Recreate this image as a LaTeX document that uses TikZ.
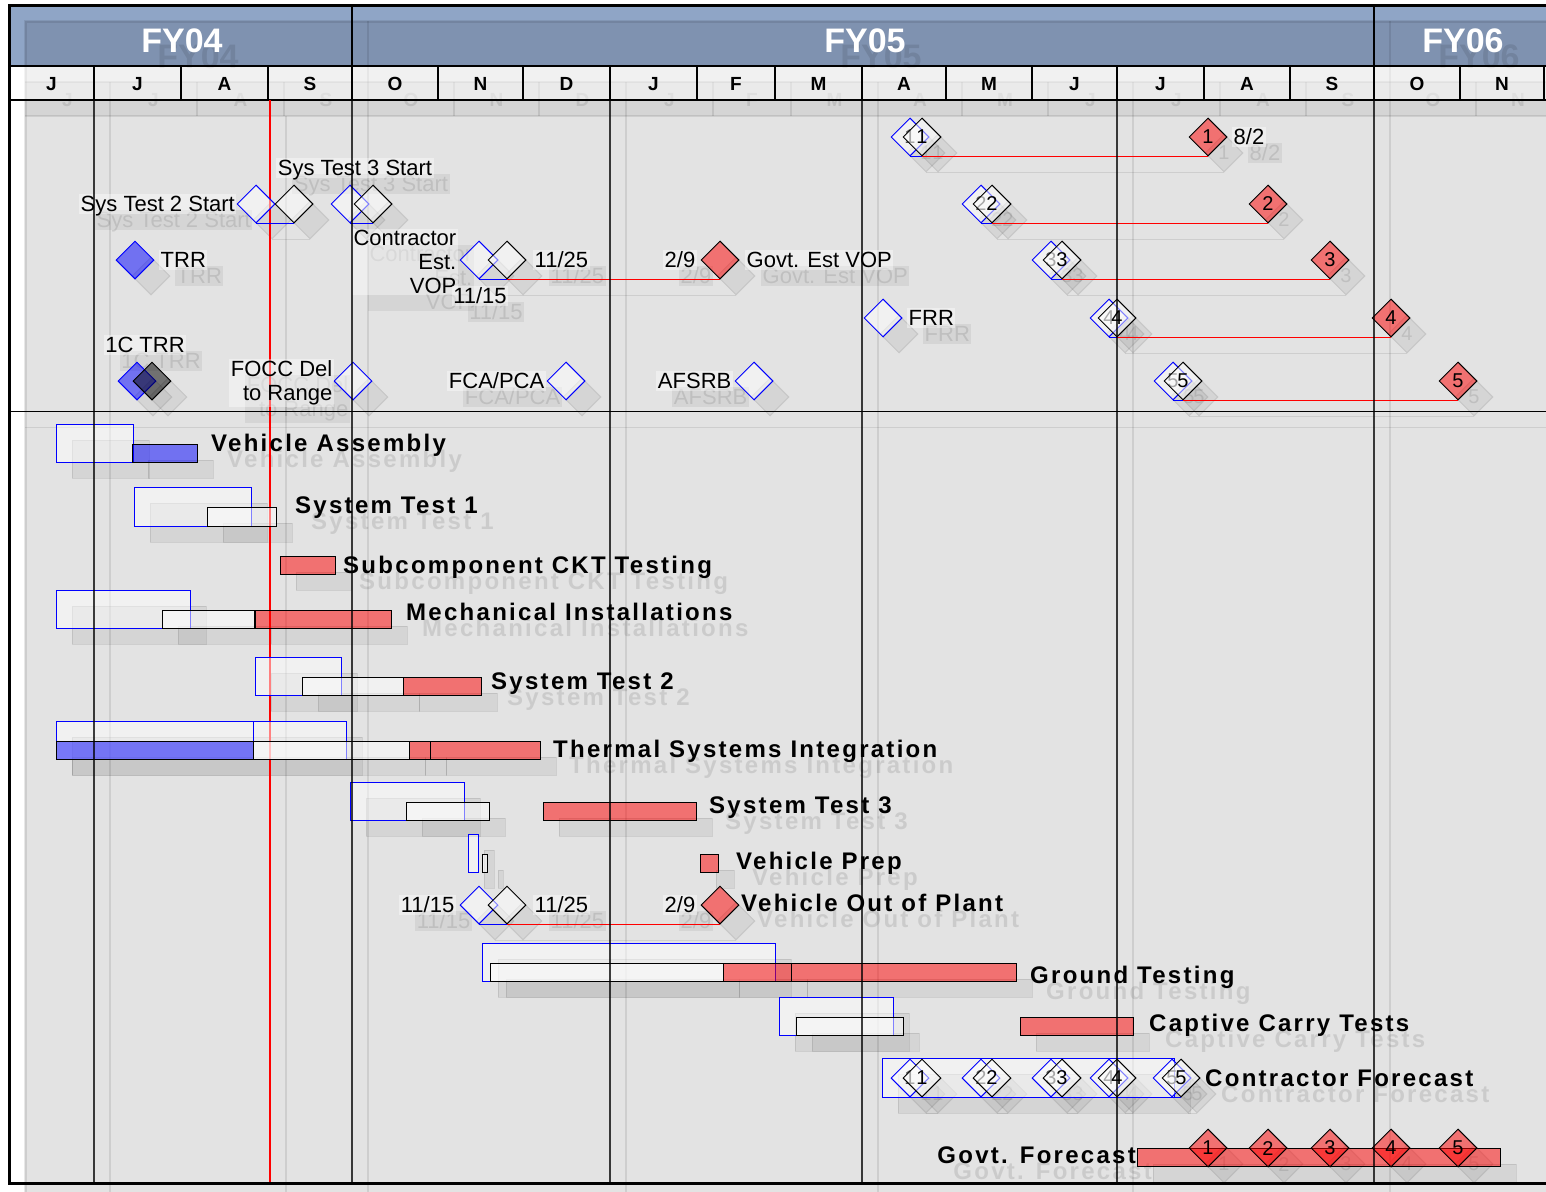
\documentclass[tikz,border=0pt]{standalone}
\usepackage{fontspec}
\setmainfont{Liberation Sans}
\newfontfamily\taskfam[LetterSpace=9.5]{Liberation Sans}
\usepackage{xcolor}
\definecolor{gthead}{RGB}{143,165,198}
\definecolor{gtblue}{RGB}{0,0,255}
\definecolor{gtred}{RGB}{255,0,0}
\definecolor{gtline}{RGB}{0,0,0}
\definecolor{gtgrey}{RGB}{80,80,80}
\definecolor{gtink}{RGB}{0,0,0}
\definecolor{gtfy}{RGB}{255,255,255}
\definecolor{gtpaper}{RGB}{255,255,255}
\usepackage{tikz}
\usetikzlibrary{shapes.geometric}

\newcommand\taskfnt{\taskfam\bfseries\fontsize{24}{28}\selectfont}
\newcommand\mstfnt{\fontsize{22}{24}\selectfont}
\newcommand\numfnt{\fontsize{20}{22}\selectfont}
\newcommand\fyfnt{\bfseries\fontsize{34}{38}\selectfont}
\newcommand\monfnt{\bfseries\fontsize{19}{22}\selectfont}

% everything of the chart, drawn once as shadow and once for real
\newcommand\chartitems{%
  % month row
  \fill[monrow] (9,66) rectangle (1560,100);
  \foreach \xs/\xe/\mname [count=\i] in {9/94/J,94/181/J,181/268/A,268/352/S,352/438/O,438/523/N,523/610/D,610/697/J,697/775/F,775/862/M,862/946/A,946/1032/M,1032/1117/J,1117/1204/J,1204/1290/A,1290/1374/S,1374/1460/O,1460/1544/N}{
    \node[montext] (mon\i) at ({(\xs+\xe)/2},84) {\mname};
    \draw[gtgrid] (\xe,66) -- (\xe,100);
  }
  \draw[gtgrid] (9,66) -- (1560,66);
  \draw[gtgrid] (9,100) -- (1560,100);
  % fiscal years
  \draw[gtgrid] (352,5) -- (352,66);
  \draw[gtgrid] (1374,5) -- (1374,66);
  \node[fytext] (fy04) at (182,41) {FY04};
  \node[fytext] (fy05) at (865,41) {FY05};
  \node[fytext] (fy06) at (1463,41) {FY06};
  % status date
  \draw[nowline] (270,100) -- (270,1183);
  \draw[divline] (9,411) -- (1560,411);
  % milestones
  \node[mstone] (s2a) at (256,204) {};
  \node[mdone] (s2b) at (294,204) {};
  \draw[plink] (s2a.south) -- (s2b.south);
  \node[mlabel, anchor=east] (s2l) at (s2a.west) {Sys Test 2 Start};
  \node[mstone] (s3a) at (350,204) {};
  \node[mdone] (s3b) at (373,204) {};
  \draw[plink] (s3a.south) -- (s3b.south);
  \node[mlabel] (s3l) at (355,168) {Sys Test 3 Start};
  \node[mfill] (trr) at (135,260) {};
  \node[mlabel, anchor=west] (trrl) at (159,260) {TRR};
  \node[mfill] (c1a) at (137,381) {};
  \node[mdark] (c1b) at (152,381) {};
  \node[mlabel] (c1l) at (145,345) {1C TRR};
  \node[mstone] (focc) at (353,381) {};
  \node[mlabel, align=right, text height={}, text depth={}, anchor=east] (foccl) at (334,383) {FOCC Del\\to Range};
  \node[mstone] (cvpa) at (479,260) {};
  \node[mdone] (cvpb) at (507,260) {};
  \node[mred] (gvp) at (720,260) {};
  \draw[plink] (cvpa.south) -- (cvpb.south);
  \draw[slip] (cvpb.south) -- (gvp.south);
  \node[mlabel, align=right, text height={}, text depth={}, anchor=east] (cvpl) at (458,262) {Contractor\\Est.\\VOP};
  \node[mlabel] (cvpd1) at (480,296) {11/15};
  \node[mlabel, anchor=west] (cvpd2) at (533,260) {11/25};
  \node[mlabel, anchor=east] (gvpd) at (697,260) {2/9};
  \node[mlabel, anchor=west] (gvpl) at (745,260) {Govt. Est VOP};
  \node[mstone] (frr) at (883,318) {};
  \node[mlabel, anchor=west] (frrl) at (907,318) {FRR};
  \node[mstone] (fca) at (566,381) {};
  \node[mlabel, anchor=east] (fcal) at (546,381) {FCA/PCA};
  \node[mstone] (afs) at (754,381) {};
  \node[mlabel, anchor=east] (afsl) at (733,381) {AFSRB};
  \foreach \i/\xa/\xb/\xr/\y in {1/910/922/1208/137,2/981/992/1268/204,3/1051/1062/1330/260,4/1109/1117/1391/318,5/1173/1183/1458/381}{
    \node[mstone] (pa\i) at (\xa,\y) {\i};
    \node[mdone] (pb\i) at (\xb,\y) {\i};
    \node[mred] (pr\i) at (\xr,\y) {\i};
    \draw[plink] (pa\i.south) -- (pb\i.south);
    \draw[slip] (pb\i.south) -- (pr\i.south);
  }
  \node[mlabel, anchor=west] (due1) at (1232,137) {8/2};
  % tasks
  \draw[planbar] (56,424) rectangle (133,462);
  \draw[donebar] (132,444) rectangle (197,462);
  \node[tlabel, anchor=west] (vasm) at (211,443) {Vehicle Assembly};
  \draw[planbar] (134,487) rectangle (251,526);
  \draw[todobar] (207,507) rectangle (276,526);
  \node[tlabel, anchor=west] (sys1) at (295,505) {System Test 1};
  \draw[latebar] (280,556) rectangle (335,574);
  \node[tlabel, anchor=west] (sckt) at (343,565) {Subcomponent CKT Testing};
  \draw[planbar] (56,590) rectangle (190,628);
  \draw[todobar] (162,610) rectangle (254,628);
  \draw[latebar] (255,610) rectangle (391,628);
  \node[tlabel, anchor=west] (mech) at (406,612) {Mechanical Installations};
  \draw[planbar] (255,657) rectangle (341,695);
  \draw[todobar] (302,677) rectangle (403,695);
  \draw[latebar] (403,677) rectangle (481,695);
  \node[tlabel, anchor=west] (sys2) at (491,681) {System Test 2};
  \draw[planbar] (56,721) rectangle (253,759);
  \draw[planbar] (253,721) rectangle (346,759);
  \draw[donebar] (56,741) rectangle (253,759);
  \draw[todobar] (253,741) rectangle (409,759);
  \draw[latebar] (409,741) rectangle (430,759);
  \draw[latebar] (430,741) rectangle (540,759);
  \node[tlabel, anchor=west] (thrm) at (553,749) {Thermal Systems Integration};
  \draw[planbar] (350,782) rectangle (464,820);
  \draw[todobar] (406,802) rectangle (489,820);
  \draw[latebar] (543,802) rectangle (696,820);
  \node[tlabel, anchor=west] (sys3) at (709,805) {System Test 3};
  \draw[planbar] (468,834) rectangle (478,872);
  \draw[todobar] (482,854) rectangle (487,872);
  \draw[latebar] (700,854) rectangle (718,872);
  \node[tlabel, anchor=west] (vprp) at (736,861) {Vehicle Prep};
  \node[mstone] (vopa) at (479,905) {};
  \node[mdone] (vopb) at (507,905) {};
  \node[mred] (vopg) at (720,905) {};
  \draw[plink] (vopa.south) -- (vopb.south);
  \draw[slip] (vopb.south) -- (vopg.south);
  \node[mlabel, anchor=east] (vopd1) at (456,905) {11/15};
  \node[mlabel, anchor=west] (vopd2) at (533,905) {11/25};
  \node[mlabel, anchor=east] (vopd3) at (697,905) {2/9};
  \node[tlabel, anchor=west] (vopl) at (741,903) {Vehicle Out of Plant};
  \draw[planbar] (482,943) rectangle (775,981);
  \draw[todobar] (490,963) rectangle (723,981);
  \draw[latebar] (723,963) rectangle (791,981);
  \draw[latebar] (791,963) rectangle (1016,981);
  \node[tlabel, anchor=west] (grnd) at (1030,975) {Ground Testing};
  \draw[planbar] (779,997) rectangle (893,1035);
  \draw[todobar] (796,1017) rectangle (903,1035);
  \draw[latebar] (1020,1017) rectangle (1133,1035);
  \node[tlabel, anchor=west] (capt) at (1149,1023) {Captive Carry Tests};
  \draw[planbar] (882,1058) rectangle (1174,1097);
  \foreach \i/\xa/\xb in {1/910/922,2/981/992,3/1051/1062,4/1109/1117,5/1172/1181}{
    \node[mstone] (fa\i) at (\xa,1078) {\i};
    \node[mdone] (fb\i) at (\xb,1078) {\i};
    \draw[plink] (fa\i.south) -- (fb\i.south);
  }
  \node[tlabel, anchor=west] (cfor) at (1205,1078) {Contractor Forecast};
  \draw[latebar] (1137,1148) rectangle (1500,1166);
  \foreach \i/\x in {1/1208,2/1268,3/1330,4/1391,5/1458} \node[mred] (fg\i) at (\x,1148) {\i};
  \node[tlabel, anchor=east] (gfor) at (1136,1155) {Govt. Forecast};
  % quarter lines over the bars, frame
  \foreach \x in {94,352,610,862,1117,1374} \draw[qline] (\x,100) -- (\x,1183);
  \draw[gtframe] (1560,5) -- (9,5) -- (9,1183) -- (1560,1183);
}

\begin{document}
\begin{tikzpicture}[x=1pt, y=-1pt,
  ghostly/.style={draw opacity=.09, fill opacity=.06, text opacity=.1},
  gtgrid/.style={draw=gtline, line width=1.5pt},
  gtframe/.style={draw=gtline, line width=3pt},
  monrow/.style={fill=gtpaper, fill opacity=.5},
  montext/.style={font=\monfnt, text=gtink},
  fytext/.style={font=\fyfnt, text=gtfy},
  qline/.style={draw=gtline, line width=1.2pt, draw opacity=.75},
  nowline/.style={draw=gtred, line width=1.5pt},
  divline/.style={draw=gtline, line width=1pt},
  planbar/.style={draw=gtblue, line width=1pt, fill=gtpaper, fill opacity=.5},
  donebar/.style={draw=gtline, line width=1pt, fill=gtblue, fill opacity=.5},
  todobar/.style={draw=gtline, line width=1pt, fill=gtpaper, fill opacity=.5},
  latebar/.style={draw=gtline, line width=1pt, fill=gtred, fill opacity=.5},
  mstone/.style={diamond, draw=gtblue, line width=1pt, fill=gtpaper, fill opacity=.5, text=gtgrey, text opacity=1, minimum size=38pt, inner sep=0pt, font=\numfnt},
  mdone/.style={mstone, draw=gtline, text=gtink},
  mred/.style={mstone, draw=gtline, fill=gtred, text=gtink},
  mfill/.style={mstone, fill=gtblue},
  mdark/.style={mstone, draw=gtline, fill=gtline},
  mlabel/.style={font=\mstfnt, text=gtink, fill=gtpaper, fill opacity=.4, text opacity=1, inner sep=1.5pt, text height=16.5pt, text depth=1.1pt},
  tlabel/.style={font=\taskfnt, text=gtink, inner sep=0pt, text height=17.2pt, text depth=0pt},
  slip/.style={draw=gtred, draw opacity=1, line width=1.8pt},
  plink/.style={draw=gtblue, line width=1.5pt}
]
\useasboundingbox (0,0) rectangle (1546,1191);
\clip (0,0) rectangle (1546,1191);
\fill[white] (0,0) rectangle (1546,1191);
\fill[gthead] (9,5) rectangle (1560,66);

% shadow copy
\begin{scope}[shift={(16,16)}]
  \colorlet{gtblue}{black}\colorlet{gtred}{black}\colorlet{gtgrey}{black}
  \colorlet{gtfy}{black}\colorlet{gtpaper}{black}
  \tikzset{gtgrid/.append style=ghostly, gtframe/.append style=ghostly,
    monrow/.append style=ghostly, montext/.append style=ghostly,
    fytext/.append style=ghostly, qline/.append style=ghostly,
    nowline/.append style=ghostly, divline/.append style=ghostly,
    planbar/.append style=ghostly, donebar/.append style=ghostly,
    todobar/.append style=ghostly, latebar/.append style=ghostly,
    mstone/.append style=ghostly, mlabel/.append style=ghostly,
    tlabel/.append style=ghostly, slip/.append style=ghostly,
    plink/.append style=ghostly}
  \fill[gtline, opacity=.11] (9,5) rectangle (1560,1183);
  \chartitems
\end{scope}

\chartitems
\end{tikzpicture}
\end{document}
